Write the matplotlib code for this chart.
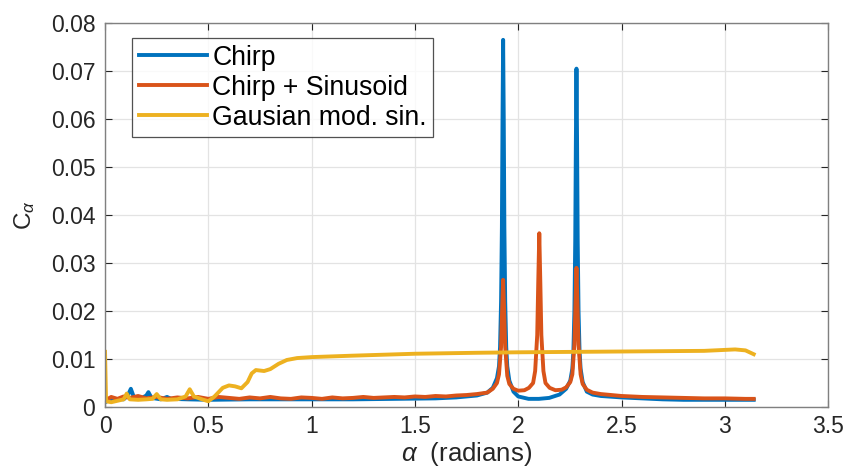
import numpy as np
import matplotlib.pyplot as plt

# alpha (radians) / C_alpha values
chirp_alpha = [0.0, 0.02, 0.05, 0.09, 0.11, 0.125, 0.14, 0.17, 0.2, 0.21, 0.225, 0.27, 0.3, 0.32,
               0.4, 0.5, 0.7, 1.0, 1.2, 1.4, 1.6, 1.7, 1.8, 1.85, 1.877, 1.897, 1.907, 1.912,
               1.917, 1.921, 1.924, 1.927, 1.930, 1.933, 1.937, 1.942, 1.947, 1.957, 1.977,
               2.0, 2.05, 2.1, 2.15, 2.2, 2.232, 2.252, 2.262, 2.267, 2.272, 2.276, 2.279,
               2.282, 2.285, 2.288, 2.292, 2.297, 2.302, 2.312, 2.332, 2.36, 2.4, 2.5, 2.6,
               2.7, 2.8, 2.9, 3.0, 3.14]
chirp_val = [0.0010, 0.0014, 0.0017, 0.0016, 0.0024, 0.0038, 0.0020, 0.0017, 0.0024, 0.0031,
             0.0019, 0.0016, 0.0021, 0.0017, 0.0016, 0.0015, 0.0016, 0.0016, 0.0016, 0.0017,
             0.0018, 0.0020, 0.0024, 0.0030, 0.0040, 0.0060, 0.0085, 0.0125, 0.0220, 0.0375,
             0.0600, 0.0765, 0.0600, 0.0375, 0.0220, 0.0125, 0.0085, 0.0055, 0.0032, 0.0022,
             0.0017, 0.0017, 0.0019, 0.0026, 0.0038, 0.0055, 0.0080, 0.0115, 0.0200, 0.0345,
             0.0550, 0.0705, 0.0550, 0.0345, 0.0200, 0.0115, 0.0080, 0.0052, 0.0032, 0.0026,
             0.0023, 0.0020, 0.0018, 0.0016, 0.0015, 0.0015, 0.0015, 0.0015]

sin_alpha = [0.0, 0.01, 0.03, 0.06, 0.09, 0.12, 0.16, 0.2, 0.25, 0.3, 0.35, 0.4, 0.45, 0.5,
             0.55, 0.6, 0.65, 0.7, 0.75, 0.8, 0.85, 0.9, 0.95, 1.0, 1.05, 1.1, 1.15, 1.2,
             1.25, 1.3, 1.35, 1.4, 1.45, 1.5, 1.55, 1.6, 1.65, 1.7, 1.75, 1.8, 1.85,
             1.877, 1.897, 1.907, 1.917, 1.922, 1.927, 1.932, 1.937, 1.947, 1.957, 1.977,
             2.0, 2.03, 2.052, 2.072, 2.082, 2.092, 2.097, 2.102, 2.107, 2.112, 2.122, 2.132,
             2.152, 2.18, 2.21, 2.232, 2.252, 2.262, 2.272, 2.277, 2.282, 2.287, 2.292,
             2.302, 2.312, 2.332, 2.36, 2.4, 2.5, 2.6, 2.7, 2.8, 2.9, 3.0, 3.1, 3.14]
sin_val = [0.0012, 0.0016, 0.0021, 0.0017, 0.0022, 0.0019, 0.0023, 0.0018, 0.0021, 0.0017,
           0.0020, 0.0018, 0.0021, 0.0017, 0.0021, 0.0019, 0.0017, 0.0020, 0.0018, 0.0021,
           0.0018, 0.0017, 0.0020, 0.0019, 0.0017, 0.0020, 0.0018, 0.0019, 0.0021, 0.0019,
           0.0020, 0.0021, 0.0020, 0.0022, 0.0021, 0.0023, 0.0022, 0.0024, 0.0025, 0.0027,
           0.0030, 0.0038, 0.0050, 0.0068, 0.0125, 0.0200, 0.0265, 0.0200, 0.0125, 0.0065,
           0.0048, 0.0038, 0.0034, 0.0035, 0.0040, 0.0050, 0.0075, 0.0150, 0.0260, 0.0362,
           0.0260, 0.0150, 0.0075, 0.0050, 0.0040, 0.0035, 0.0036, 0.0041, 0.0052, 0.0068,
           0.0130, 0.0210, 0.0290, 0.0210, 0.0130, 0.0068, 0.0048, 0.0036, 0.0030, 0.0027,
           0.0023, 0.0021, 0.0020, 0.0019, 0.0018, 0.0018, 0.0017, 0.0017]

gauss_alpha = [0.0, 0.005, 0.03, 0.06, 0.09, 0.105, 0.12, 0.16, 0.2, 0.23, 0.25, 0.27, 0.3,
               0.35, 0.39, 0.41, 0.43, 0.47, 0.5, 0.53, 0.57, 0.6, 0.63, 0.66, 0.69, 0.71,
               0.73, 0.77, 0.8, 0.84, 0.88, 0.93, 1.0, 1.2, 1.5, 1.8, 2.0, 2.3, 2.6, 2.9,
               3.0, 3.05, 3.1, 3.14]
gauss_val = [0.0115, 0.0012, 0.0010, 0.0013, 0.0016, 0.0028, 0.0016, 0.0015, 0.0016, 0.0017,
             0.0027, 0.0016, 0.0015, 0.0016, 0.0022, 0.0037, 0.0022, 0.0016, 0.0012, 0.0022,
             0.0040, 0.0045, 0.0043, 0.0039, 0.0052, 0.0070, 0.0077, 0.0075, 0.0079, 0.0090,
             0.0098, 0.0102, 0.0104, 0.0107, 0.0111, 0.0113, 0.0114, 0.0115, 0.0116, 0.0117,
             0.0119, 0.0120, 0.0118, 0.0110]

series_names = ['Chirp', 'Chirp + Sinusoid', 'Gausian mod. sin.']
colors = ['#0072BD', '#D95319', '#EDB120']

xticks = [0, 0.5, 1, 1.5, 2, 2.5, 3, 3.5]
xtick_labels = ['0', '0.5', '1', '1.5', '2', '2.5', '3', '3.5']
yticks = [0, 0.01, 0.02, 0.03, 0.04, 0.05, 0.06, 0.07, 0.08]
ytick_labels = ['0', '0.01', '0.02', '0.03', '0.04', '0.05', '0.06', '0.07', '0.08']

plt.rcParams['font.family'] = ['Liberation Sans', 'DejaVu Sans']
plt.rcParams['mathtext.fontset'] = 'custom'
plt.rcParams['mathtext.it'] = 'Liberation Sans:italic'
plt.rcParams['mathtext.rm'] = 'Liberation Sans'

fig = plt.figure(figsize=(8.45, 4.7), dpi=100)
ax = fig.add_axes([0.1243, 0.134, 0.8557, 0.817])

data = [(chirp_alpha, chirp_val), (sin_alpha, sin_val), (gauss_alpha, gauss_val)]
for (x, y), name, c in zip(data, series_names, colors):
    ax.plot(x, y, color=c, lw=2.8, label=name, solid_joinstyle='round')

ax.set_xlim(0, 3.5)
ax.set_ylim(0, 0.08)
ax.set_xticks(xticks)
ax.set_xticklabels(xtick_labels)
ax.set_yticks(yticks)
ax.set_yticklabels(ytick_labels)
ax.tick_params(direction='in', top=True, right=True, labelsize=16.5, colors='#262626',
               length=5, width=0.8)
ax.tick_params(axis='x', pad=6)
ax.tick_params(axis='y', pad=7)
for tl in ax.get_xticklabels() + ax.get_yticklabels():
    tl.set_color('#262626')
ax.grid(True, color='#e3e3e3', lw=0.9)
ax.set_axisbelow(True)
for s in ax.spines.values():
    s.set_color('#808080')
    s.set_linewidth(1.0)

ax.set_xlabel(r'$\alpha$  (radians)', fontsize=18.5, color='#262626', labelpad=1)
ax.set_ylabel(r'C$_\alpha$', fontsize=17.5, color='#262626', labelpad=10)

leg = ax.legend(loc='upper left', bbox_to_anchor=(0.0373, 0.961), fontsize=19.2,
                handlelength=2.55, handletextpad=0.21, borderpad=0.25, labelspacing=0.15,
                frameon=True, fancybox=False, borderaxespad=0)
leg.get_frame().set_edgecolor('#262626')
leg.get_frame().set_linewidth(0.9)
for line in leg.get_lines():
    line.set_linewidth(2.8)

fig.savefig('out.png', dpi=100)
